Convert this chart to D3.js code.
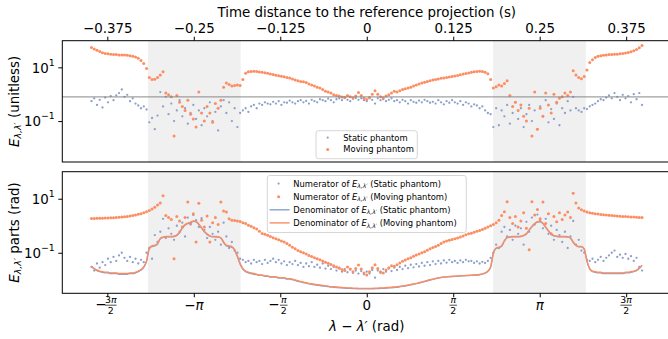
<!DOCTYPE html>
<html><head><meta charset="utf-8">
<script src="https://cdn.jsdelivr.net/npm/d3@7/dist/d3.min.js"></script>
<style>
html,body{margin:0;padding:0;background:#fff;}
svg{display:block;}
</style></head>
<body>
<svg id="chart" width="668" height="339"></svg>
<script>
// ---------------- data ----------------
// sampling grid of λ−λ′ (rad): value i is at xStart + i*xStep
const xStart = -5.0, xStep = 0.05;

// Top panel: E_{λ,λ′} (unitless)
const staticE = [
 0.55,0.7,0.4,0.62,0.32,0.75,0.5,0.85,0.6,0.9, 1.1,1.5,0.8,0.95,0.55,0.7,0.45,0.38,0.3,0.35,
 0.27,0.09,0.13,0.05,0.16,1.2,0.35,0.8,0.18,0.45, 0.1,0.25,0.6,0.15,0.3,0.08,0.2,0.4,0.12,0.25,
 0.07,0.3,0.15,0.5,0.1,0.22,0.045,0.35,0.6,0.2, 0.5,0.1,0.3,0.06,0.2,0.25,0.3,0.22,0.35,0.4,
 0.3,0.45,0.4,0.5,0.45,0.42,0.52,0.45,0.55,0.4, 0.5,0.48,0.58,0.5,0.45,0.55,0.6,0.5,0.56,0.45,
 0.62,0.55,0.5,0.65,0.6,0.55,0.68,0.6,0.5,0.65, 0.7,0.6,0.72,0.62,0.55,0.68,0.72,0.62,0.7,0.6,
 0.55,0.7,0.62,0.45,0.7,0.6,0.65,0.55,0.62,0.7, 0.55,0.6,0.5,0.62,0.55,0.45,0.6,0.52,0.48,0.58,
 0.5,0.62,0.55,0.48,0.52,0.45,0.6,0.5,0.42,0.55, 0.48,0.6,0.5,0.45,0.55,0.4,0.5,0.45,0.35,0.42,
 0.38,0.3,0.35,0.25,0.2,0.18,0.06,0.3,0.07,0.25, 0.15,0.4,0.08,0.2,0.5,0.12,0.3,0.06,0.18,0.4,
 0.1,0.25,0.05,0.35,0.15,0.6,0.09,0.28,0.12,0.45, 0.07,0.3,0.2,0.55,0.25,0.8,0.3,0.25,0.22,0.3,
 0.28,0.35,0.4,0.45,0.55,0.65,0.6,0.75,0.9,0.7, 1.1,0.8,0.6,0.95,0.7,0.85,0.5,1.0,0.65,1.1,
 0.4
];
const movingE = [
 55,48,43,39,35,33,32,31,30,30, 29,29,29,28,27,26,24,22,18,14,
 9,4.2,3.5,3.6,4.2,5.2,6.8,1.1,0.95,0.8, 0.028,0.9,0.5,0.35,0.25,0.6,0.18,0.12,0.06,1.2,
 0.2,0.1,0.35,0.2,0.09,0.45,0.3,0.6,1.8,2.6, 2.3,2.0,2.1,2.2,2.1,3.5,6.0,6.8,7.0,7.1,
 7.0,6.7,6.5,6.3,6.0,5.7,5.4,5.1,4.9,4.7, 4.5,4.2,4.0,3.7,3.4,3.2,3.0,2.9,2.7,2.4,
 2.2,2.0,1.8,1.7,1.5,1.3,1.2,1.1,0.95,0.9, 0.85,0.78,0.75,0.9,0.8,0.72,0.85,1.15,0.9,0.7,
 0.63,0.75,1.0,1.35,1.0,0.8,0.72,0.85,0.95,1.1, 1.3,1.2,1.35,1.5,1.6,1.7,1.8,2.0,2.2,2.4,
 2.6,2.8,3.0,3.2,3.4,3.5,3.7,3.9,4.0,4.2, 4.4,4.6,4.8,5.0,5.3,5.6,5.9,6.2,6.5,6.8,
 7.0,7.1,7.0,6.6,5.8,3.5,1.7,1.9,2.2,2.0, 2.5,3.2,0.9,0.35,0.5,0.25,0.4,0.15,0.1,0.3,
 0.028,1.2,0.05,0.3,0.15,1.1,0.4,0.2,1.0,0.5, 0.7,0.8,1.1,0.9,1.2,7.5,5.2,4.2,3.8,4.6,
 8,15,19,23,26,27,28,29,30,30, 31,31,32,33,34,36,38,41,46,54,
 65
];

// Bottom panel: numerators (points) and denominators (lines), rad
const staticNum = [
 0.03,0.022,0.04,0.028,0.045,0.035,0.06,0.045,0.07,0.05, 0.08,0.1,0.065,0.05,0.07,0.045,0.06,0.04,0.055,0.045,
 0.1,0.15,0.06,0.45,0.25,0.6,1.8,0.35,0.8,0.5, 0.3,1.0,0.6,1.3,0.4,2.0,1.1,2.5,1.6,0.9,
 1.9,0.7,0.35,0.9,0.5,0.3,0.6,0.2,1.3,0.4, 0.15,0.25,0.12,0.1,0.06,0.055,0.045,0.05,0.04,0.055,
 0.045,0.05,0.038,0.055,0.042,0.05,0.06,0.045,0.055,0.04, 0.048,0.035,0.045,0.038,0.05,0.035,0.042,0.03,0.04,0.032,
 0.045,0.03,0.036,0.028,0.04,0.026,0.033,0.025,0.03,0.022, 0.028,0.02,0.025,0.019,0.024,0.018,0.022,0.017,0.021,0.016,
 0.02,0.017,0.023,0.012,0.022,0.018,0.025,0.02,0.026,0.021, 0.028,0.023,0.03,0.025,0.033,0.027,0.036,0.029,0.038,0.031,
 0.042,0.033,0.045,0.035,0.048,0.038,0.05,0.04,0.052,0.043, 0.055,0.045,0.05,0.042,0.052,0.045,0.055,0.048,0.05,0.042,
 0.048,0.04,0.046,0.042,0.05,0.065,0.1,0.2,0.15,0.6, 0.9,0.4,0.7,0.3,1.0,0.5,0.8,0.2,1.4,0.6,
 2.0,1.1,2.6,1.5,0.8,1.8,0.5,1.0,0.3,0.7, 0.45,0.25,0.6,0.15,0.4,1.5,0.2,0.3,0.12,0.1,
 0.055,0.05,0.06,0.045,0.055,0.07,0.05,0.065,0.08,0.1, 0.12,0.07,0.085,0.065,0.09,0.06,0.075,0.05,0.065,0.03,
 0.022
];
const movingNum = [
 1.85,1.87,1.88,1.9,1.9,1.92,1.94,1.96,1.98,2.0, 2.05,2.1,2.15,2.2,2.3,2.4,2.5,2.65,2.8,3.0,
 3.3,3.7,4.2,4.8,5.8,7.0,13,2.4,2.0,1.7, 0.06,2.2,1.5,0.9,2.0,7.5,1.2,2.8,0.25,6.8,
 1.6,0.9,2.3,0.25,1.3,2.0,1.1,7.5,3.5,3.2, 1.8,1.6,1.55,1.5,1.45,1.3,1.2,1.05,0.95,0.85,
 0.75,0.62,0.52,0.48,0.44,0.4,0.36,0.33,0.3,0.27, 0.25,0.22,0.19,0.16,0.14,0.12,0.11,0.1,0.09,0.08,
 0.072,0.066,0.06,0.055,0.05,0.045,0.041,0.037,0.033,0.03, 0.027,0.024,0.022,0.03,0.025,0.02,0.026,0.035,0.025,0.018,
 0.015,0.02,0.028,0.036,0.026,0.02,0.018,0.023,0.028,0.033, 0.032,0.036,0.042,0.048,0.054,0.06,0.066,0.074,0.082,0.09,
 0.1,0.11,0.125,0.14,0.155,0.17,0.19,0.22,0.25,0.27, 0.29,0.31,0.33,0.35,0.38,0.42,0.46,0.5,0.53,0.57,
 0.62,0.67,0.72,0.8,0.9,1.0,1.1,1.3,1.6,2.4, 3.3,7.7,2.0,1.2,2.2,0.9,1.5,3.0,0.8,0.13,
 7.7,2.5,4.0,1.8,7.5,1.2,2.8,0.5,2.2,1.4, 3.0,1.7,2.5,3.2,2.0,16,7.0,4.5,3.9,3.5,
 3.2,3.0,2.9,2.8,2.7,2.6,2.55,2.5,2.45,2.4, 2.35,2.3,2.25,2.2,2.2,2.15,2.1,2.1,2.05,2.0,
 2.0
];
const staticDen = [
 0.031,0.025,0.022,0.02,0.019,0.018,0.018,0.017,0.017,0.017, 0.016,0.016,0.016,0.016,0.017,0.017,0.018,0.02,0.023,0.029,
 0.048,0.14,0.17,0.18,0.21,0.33,0.37,0.39,0.39,0.39, 0.4,0.44,0.56,0.82,1.05,1.2,1.3,1.45,1.4,1.1,
 0.82,0.6,0.48,0.41,0.39,0.39,0.38,0.35,0.24,0.18, 0.17,0.16,0.125,0.072,0.038,0.025,0.02,0.018,0.017,0.016,
 0.0155,0.0145,0.0145,0.0135,0.0135,0.0125,0.0125,0.0125,0.0116,0.0116, 0.0116,0.0106,0.0106,0.0101,0.0094,0.0088,0.0084,0.0079,0.0075,0.0071,
 0.0068,0.0065,0.0063,0.0061,0.0059,0.0058,0.0056,0.0054,0.0053,0.0052, 0.0051,0.005,0.0049,0.0048,0.0048,0.0047,0.0047,0.0046,0.0046,0.0046,
 0.0046,0.0046,0.0046,0.0047,0.0047,0.0048,0.0048,0.0049,0.005,0.0051, 0.0052,0.0053,0.0055,0.0057,0.0059,0.0062,0.0065,0.0068,0.0072,0.0076,
 0.0081,0.0086,0.0092,0.0098,0.0104,0.011,0.0116,0.0121,0.0125,0.0128, 0.013,0.0132,0.0134,0.0136,0.0138,0.014,0.0142,0.0144,0.0146,0.0148,
 0.015,0.0154,0.0161,0.0175,0.0205,0.029,0.097,0.145,0.155,0.175, 0.27,0.36,0.38,0.39,0.39,0.39,0.4,0.43,0.5,0.68,
 0.92,1.17,1.36,1.4,1.2,0.87,0.63,0.49,0.42,0.4, 0.39,0.39,0.39,0.38,0.35,0.24,0.185,0.165,0.165,0.135,
 0.048,0.025,0.02,0.019,0.018,0.018,0.017,0.017,0.017,0.017, 0.017,0.017,0.017,0.017,0.018,0.018,0.019,0.02,0.022,0.026,
 0.034
];
const movingDen = [
 0.032,0.026,0.023,0.021,0.02,0.019,0.019,0.018,0.018,0.018, 0.017,0.017,0.017,0.017,0.018,0.018,0.019,0.021,0.024,0.03,
 0.05,0.15,0.18,0.19,0.22,0.34,0.38,0.4,0.4,0.4, 0.41,0.45,0.58,0.85,1.1,1.25,1.35,1.5,1.45,1.15,
 0.85,0.62,0.5,0.42,0.4,0.4,0.39,0.36,0.25,0.19, 0.18,0.17,0.13,0.075,0.04,0.026,0.021,0.019,0.018,0.017,
 0.016,0.015,0.015,0.014,0.014,0.013,0.013,0.013,0.012,0.012, 0.012,0.011,0.011,0.0105,0.0098,0.0092,0.0087,0.0082,0.0078,0.0074,
 0.0071,0.0068,0.0066,0.0064,0.0062,0.006,0.0058,0.0056,0.0055,0.0054, 0.0053,0.0052,0.0051,0.005,0.005,0.0049,0.0049,0.0048,0.0048,0.0048,
 0.0048,0.0048,0.0048,0.0049,0.0049,0.005,0.005,0.0051,0.0052,0.0053, 0.0054,0.0055,0.0057,0.0059,0.0061,0.0064,0.0067,0.007,0.0074,0.0078,
 0.0083,0.0088,0.0094,0.01,0.0106,0.0112,0.0118,0.0123,0.0127,0.013, 0.0132,0.0134,0.0136,0.0138,0.014,0.0142,0.0144,0.0146,0.0148,0.015,
 0.0153,0.0157,0.0165,0.018,0.021,0.03,0.1,0.15,0.16,0.18, 0.28,0.37,0.39,0.4,0.4,0.4,0.41,0.44,0.52,0.7,
 0.95,1.2,1.4,1.45,1.25,0.9,0.65,0.5,0.43,0.41, 0.4,0.4,0.4,0.39,0.36,0.25,0.19,0.17,0.17,0.14,
 0.05,0.026,0.021,0.02,0.019,0.019,0.018,0.018,0.018,0.018, 0.018,0.018,0.018,0.018,0.019,0.019,0.02,0.021,0.023,0.027,
 0.035
];

const shadedRanges = [[-3.975, -2.29], [2.295, 3.98]];
const referenceLevel = 0.79;
const radTicks = [-3*Math.PI/2, -Math.PI, -Math.PI/2, 0, Math.PI/2, Math.PI, 3*Math.PI/2];
const radTickLabels = ["−3π/2", "−π", "−π/2", "0", "π/2", "π", "3π/2"];
const timeTicks = [-0.375, -0.25, -0.125, 0, 0.125, 0.25, 0.375];
const timeTickLabels = ["−0.375", "−0.25", "−0.125", "0", "0.125", "0.25", "0.375"];
const logTicks = [0.1, 10];
const logTickExps = ["−1", "1"];

// ---------------- drawing ----------------
const BLUE = "#8da0cb", ORANGE = "#fc8d62", SHADE = "#f0f0f0";
const FONT = "DejaVu Sans, sans-serif";
const FS = 13.4, SFS = 9.4, LFS = 8.4;
const svg = d3.select("#chart").attr("font-family", FONT);

const L = 62.3, R = 671.2;
const topP = {t: 40.7, b: 162}, botP = {t: 171.7, b: 293.3};
const xPad = 5.53;
const x = d3.scaleLinear().domain([-xPad, xPad]).range([L, R]);
const xt = d3.scaleLinear().domain([-xPad/(4*Math.PI), xPad/(4*Math.PI)]).range([L, R]);
const yT = d3.scaleLog().domain([0.003, 98]).range([topP.b, topP.t]);
const yB = d3.scaleLog().domain([0.00316, 100]).range([botP.b, botP.t]);
const xi = i => x(xStart + i*xStep);

function shading(p) {
  const g = svg.append("g");
  shadedRanges.forEach(([a, b]) => g.append("rect")
    .attr("x", x(a)).attr("y", p.t).attr("width", x(b) - x(a)).attr("height", p.b - p.t)
    .attr("fill", SHADE));
}
function scatter(arr, yS, color, r) {
  svg.append("g").selectAll("circle").data(arr).join("circle")
    .attr("cx", (d, i) => xi(i)).attr("cy", d => yS(d)).attr("r", r).attr("fill", color);
}
function curve(arr, yS, color) {
  svg.append("path").datum(arr)
    .attr("d", d3.line().x((d, i) => xi(i)).y(d => yS(d)).curve(d3.curveMonotoneX))
    .attr("fill", "none").attr("stroke", color).attr("stroke-width", 1.4);
}
function frame(p) {
  svg.append("rect").attr("x", L).attr("y", p.t).attr("width", R - L).attr("height", p.b - p.t)
    .attr("fill", "none").attr("stroke", "#000").attr("stroke-width", 1);
}
function leftAxis(yS) {
  const g = svg.append("g").attr("transform", `translate(${L},0)`)
    .call(d3.axisLeft(yS).tickValues(logTicks).tickFormat("").tickSize(4));
  g.select(".domain").remove();
  g.selectAll(".tick line").attr("stroke", "#000");
  g.selectAll(".tick text").remove();
  g.selectAll(".tick").each(function(d) {
    const t = d3.select(this).append("text").attr("x", -7.5).attr("dy", "0.36em")
      .attr("text-anchor", "end").attr("fill", "#000").attr("font-size", FS).attr("font-family", FONT);
    t.append("tspan").text("10");
    t.append("tspan").attr("dy", -7).attr("font-size", SFS).text(logTickExps[logTicks.indexOf(d)]);
  });
}
function addE(t, fs) {
  t.append("tspan").attr("font-style", "italic").text("E");
  t.append("tspan").attr("font-style", "italic").attr("font-size", fs*0.7).attr("dy", fs*0.2).text("λ,λ′");
  return t.append("tspan").attr("dy", -fs*0.2);
}

// ---- top panel ----
shading(topP);
scatter(staticE, yT, BLUE, 1.15);
scatter(movingE, yT, ORANGE, 1.5);
svg.append("line").attr("x1", L).attr("x2", R).attr("y1", yT(referenceLevel)).attr("y2", yT(referenceLevel))
  .attr("stroke", "#808080").attr("stroke-opacity", 0.75).attr("stroke-width", 1.3);
frame(topP);
leftAxis(yT);

// top time axis
const gTop = svg.append("g").attr("transform", `translate(0,${topP.t})`)
  .call(d3.axisTop(xt).tickValues(timeTicks).tickFormat((d, i) => timeTickLabels[i]).tickSize(4).tickPadding(3.8));
gTop.select(".domain").remove();
gTop.attr("font-size", FS).attr("font-family", FONT);
gTop.selectAll(".tick line").attr("stroke", "#000");
gTop.selectAll(".tick text").attr("fill", "#000");
svg.append("text").attr("x", x(0)).attr("y", 17.3).attr("text-anchor", "middle").attr("font-size", FS)
  .text("Time distance to the reference projection (s)");

// top y label
const yl1 = svg.append("text").attr("transform", `translate(18.5,${(topP.t + topP.b)/2}) rotate(-90)`)
  .attr("text-anchor", "middle").attr("font-size", FS);
addE(yl1, FS).text(" (unitless)");

// top legend
const lg1 = svg.append("g");
lg1.append("rect").attr("x", 316).attr("y", 130.7).attr("width", 101.3).attr("height", 28).attr("rx", 2.5)
  .attr("fill", "#fff").attr("fill-opacity", 0.8).attr("stroke", "#cccccc").attr("stroke-width", 0.8);
[[BLUE, 1.15, "Static phantom"], [ORANGE, 1.5, "Moving phantom"]].forEach(([c, r, s], k) => {
  const yy = 137.6 + k*11.8;
  lg1.append("circle").attr("cx", 327.7).attr("cy", yy).attr("r", r).attr("fill", c);
  lg1.append("text").attr("x", 343.3).attr("y", yy).attr("dy", "0.35em").attr("font-size", LFS).text(s);
});

// ---- bottom panel ----
shading(botP);
scatter(staticNum, yB, BLUE, 1.15);
scatter(movingNum, yB, ORANGE, 1.5);
curve(staticDen, yB, BLUE);
curve(movingDen, yB, ORANGE);
frame(botP);
leftAxis(yB);

// bottom x axis
const gBot = svg.append("g").attr("transform", `translate(0,${botP.b})`)
  .call(d3.axisBottom(x).tickValues(radTicks).tickFormat("").tickSize(4));
gBot.select(".domain").remove();
gBot.selectAll(".tick line").attr("stroke", "#000");
gBot.selectAll(".tick text").remove();

function mathRun(t, s) {
  for (const ch of s) t.append("tspan").attr("font-style", ch === "π" ? "italic" : null).text(ch);
}
const labG = svg.append("g").attr("font-family", FONT);
radTicks.forEach((v, i) => {
  const lab = radTickLabels[i], cx = x(v), cy = 305;
  const neg = lab.startsWith("−");
  const body = neg ? lab.slice(1) : lab;
  if (body.includes("/")) {
    const [num, den] = body.split("/");
    const fcx = neg ? cx + 3.5 : cx;
    const w = num.length > 1 ? 11.5 : 7.5;
    if (neg) labG.append("text").attr("x", cx - 6.5).attr("y", cy + 4.2).attr("text-anchor", "middle")
      .attr("font-size", FS).text("−");
    const tn = labG.append("text").attr("x", fcx).attr("y", cy - 1.6).attr("text-anchor", "middle").attr("font-size", SFS);
    mathRun(tn, num);
    labG.append("line").attr("x1", fcx - w/2).attr("x2", fcx + w/2).attr("y1", cy + 0.2).attr("y2", cy + 0.2)
      .attr("stroke", "#000").attr("stroke-width", 0.7);
    labG.append("text").attr("x", fcx).attr("y", cy + 9).attr("text-anchor", "middle").attr("font-size", SFS).text(den);
  } else {
    const t = labG.append("text").attr("x", cx).attr("y", cy + 4.8).attr("text-anchor", "middle").attr("font-size", FS);
    mathRun(t, lab);
  }
});

// x label
const xl = svg.append("text").attr("x", x(0)).attr("y", 330.5).attr("text-anchor", "middle").attr("font-size", FS);
xl.append("tspan").attr("font-style", "italic").text("λ");
xl.append("tspan").text(" − ");
xl.append("tspan").attr("font-style", "italic").text("λ′");
xl.append("tspan").text(" (rad)");

// bottom y label
const yl2 = svg.append("text").attr("transform", `translate(18.5,${(botP.t + botP.b)/2}) rotate(-90)`)
  .attr("text-anchor", "middle").attr("font-size", FS);
addE(yl2, FS).text(" parts (rad)");

// bottom legend
const lg2 = svg.append("g");
lg2.append("rect").attr("x", 267.3).attr("y", 175.5).attr("width", 199).attr("height", 57).attr("rx", 2.5)
  .attr("fill", "#fff").attr("fill-opacity", 0.8).attr("stroke", "#cccccc").attr("stroke-width", 0.8);
const legendRows = [
  {kind: "dot", c: BLUE, r: 1.15, pre: "Numerator of ", post: " (Static phantom)"},
  {kind: "dot", c: ORANGE, r: 1.5, pre: "Numerator of ", post: " (Moving phantom)"},
  {kind: "line", c: BLUE, pre: "Denominator of ", post: " (Static phantom)"},
  {kind: "line", c: ORANGE, pre: "Denominator of ", post: " (Moving phantom)"}
];
legendRows.forEach((row, k) => {
  const yy = 183.6 + k*13.1;
  if (row.kind === "dot") lg2.append("circle").attr("cx", 278.6).attr("cy", yy).attr("r", row.r).attr("fill", row.c);
  else lg2.append("line").attr("x1", 269.6).attr("x2", 289.6).attr("y1", yy).attr("y2", yy)
    .attr("stroke", row.c).attr("stroke-width", 1.4);
  const t = lg2.append("text").attr("x", 293.3).attr("y", yy).attr("dy", "0.35em").attr("font-size", LFS);
  t.append("tspan").text(row.pre);
  addE(t, LFS).text(row.post);
});
</script>
</body></html>
